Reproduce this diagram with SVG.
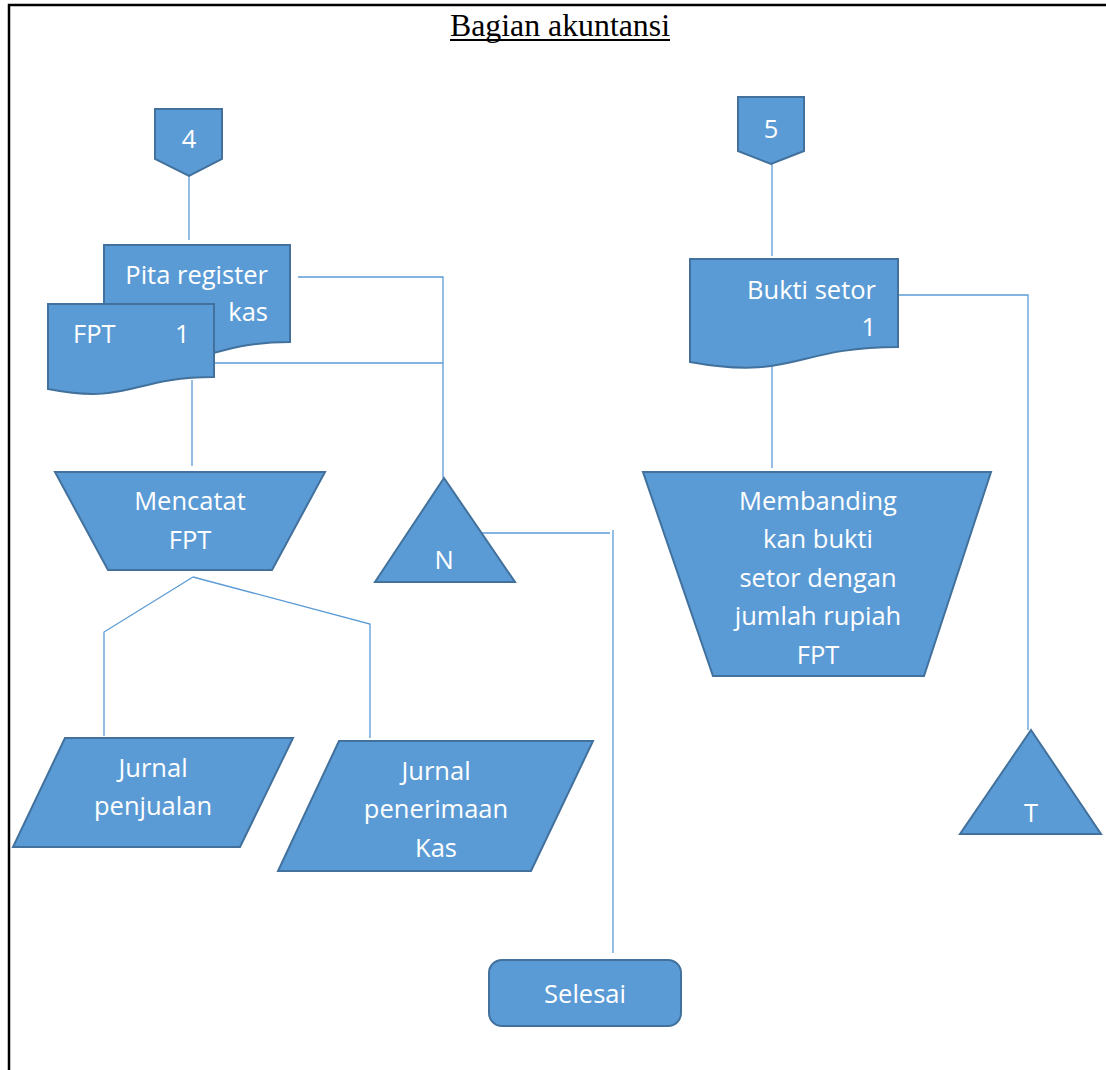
<svg xmlns="http://www.w3.org/2000/svg" width="1106" height="1070" viewBox="0 0 1106 1070">
  <style>
    .shape { fill: #5B9BD5; stroke: #41719C; stroke-width: 2; stroke-linejoin: miter; }
    .lbl { fill: #FFFFFF; font-family: "Open Sans", "Liberation Sans", sans-serif; font-size: 25.5px; }
    .mid { text-anchor: middle; }
    .end { text-anchor: end; }
    .wire { fill: none; stroke: #5B9BD5; stroke-width: 1.3; }
  </style>
  <rect x="0" y="0" width="1106" height="1070" fill="#FFFFFF"/>

  <!-- page frame -->
  <path d="M9,1070 V5 H1106" fill="none" stroke="#000000" stroke-width="2.5"/>

  <!-- heading -->
  <text x="560" y="36" text-anchor="middle" font-family="Liberation Serif, serif" font-size="31" textLength="220" lengthAdjust="spacingAndGlyphs" fill="#000000">Bagian akuntansi</text>
  <line x1="450" y1="40" x2="670" y2="40" stroke="#000000" stroke-width="2"/>

  <!-- connectors -->
  <g id="connectors">
    <line class="wire" x1="189" y1="176" x2="189" y2="240"/>
    <polyline class="wire" points="298,277 443,277 443,478"/>
    <line class="wire" x1="214" y1="363" x2="443" y2="363"/>
    <line class="wire" x1="192" y1="380" x2="192" y2="466"/>
    <polyline class="wire" points="193,577 104,632 104,736"/>
    <polyline class="wire" points="193,577 370,624 370,738"/>
    <line class="wire" x1="482" y1="533" x2="610" y2="533"/>
    <line class="wire" x1="613" y1="530" x2="613" y2="953"/>
    <line class="wire" x1="772" y1="163" x2="772" y2="256"/>
    <polyline class="wire" points="898,295 1028,295 1028,730"/>
    <line class="wire" x1="772" y1="363" x2="772" y2="468"/>
  </g>

  <!-- off-page connector 4 -->
  <g id="offpage-4">
    <path class="shape" d="M155,109 H222 V159 L189,176 L155,159 Z"/>
    <text class="lbl mid" x="189" y="148">4</text>
  </g>

  <!-- document: Pita register kas -->
  <g id="doc-pita-register">
    <path class="shape" d="M104,245 H290 V342 C197,342 197,379 104,358 Z"/>
    <text class="lbl end" x="268" y="284">Pita register</text>
    <text class="lbl end" x="268" y="321">kas</text>
  </g>

  <!-- document: FPT 1 -->
  <g id="doc-fpt">
    <path class="shape" d="M48,304 H214 V377 C131,377 131,405 48,389 Z"/>
    <text class="lbl" x="73" y="343">FPT</text>
    <text class="lbl" x="175" y="343">1</text>
  </g>

  <!-- manual operation: Mencatat FPT -->
  <g id="op-mencatat">
    <path class="shape" d="M55,472 H325 L272,570 H108 Z"/>
    <text class="lbl mid" x="190" y="510">Mencatat</text>
    <text class="lbl mid" x="190" y="549">FPT</text>
  </g>

  <!-- file: N -->
  <g id="file-n">
    <path class="shape" d="M444,478 L515,582 H375 Z"/>
    <text class="lbl mid" x="444" y="569">N</text>
  </g>

  <!-- journal: Jurnal penjualan -->
  <g id="jurnal-penjualan">
    <path class="shape" d="M65,738 H293 L240,847 H13 Z"/>
    <text class="lbl mid" x="153" y="777">Jurnal</text>
    <text class="lbl mid" x="153" y="815">penjualan</text>
  </g>

  <!-- journal: Jurnal penerimaan Kas -->
  <g id="jurnal-penerimaan">
    <path class="shape" d="M339,741 H593 L531,871 H278 Z"/>
    <text class="lbl mid" x="436" y="780">Jurnal</text>
    <text class="lbl mid" x="436" y="818">penerimaan</text>
    <text class="lbl mid" x="436" y="857">Kas</text>
  </g>

  <!-- terminator: Selesai -->
  <g id="end-selesai">
    <rect class="shape" x="489" y="960" width="192" height="66" rx="13" ry="13"/>
    <text class="lbl mid" x="585" y="1003">Selesai</text>
  </g>

  <!-- off-page connector 5 -->
  <g id="offpage-5">
    <path class="shape" d="M738,97 H804 V151 L771,164 L738,151 Z"/>
    <text class="lbl mid" x="771" y="138">5</text>
  </g>

  <!-- document: Bukti setor 1 -->
  <g id="doc-bukti-setor">
    <path class="shape" d="M690,259 H898 V347 C794,347 794,381 690,362 Z"/>
    <text class="lbl end" x="876" y="299">Bukti setor</text>
    <text class="lbl end" x="876" y="336">1</text>
  </g>

  <!-- manual operation: Membandingkan -->
  <g id="op-membanding">
    <path class="shape" d="M643,472 H991 L924,676 H713 Z"/>
    <text class="lbl mid" x="818" y="510">Membanding</text>
    <text class="lbl mid" x="818" y="548">kan bukti</text>
    <text class="lbl mid" x="818" y="587">setor dengan</text>
    <text class="lbl mid" x="818" y="625">jumlah rupiah</text>
    <text class="lbl mid" x="818" y="664">FPT</text>
  </g>

  <!-- file: T -->
  <g id="file-t">
    <path class="shape" d="M1031,730 L1101,834 H960 Z"/>
    <text class="lbl mid" x="1031" y="822">T</text>
  </g>
</svg>
